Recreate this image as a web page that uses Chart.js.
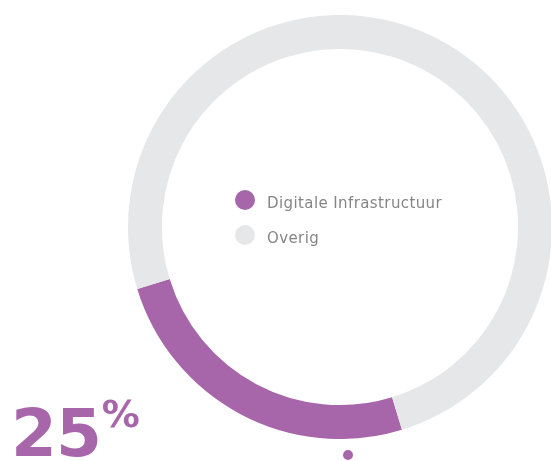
<!DOCTYPE html>
<html>
<head>
<meta charset="utf-8">
<script src="https://cdn.jsdelivr.net/npm/chart.js@4/dist/chart.umd.min.js"></script>
<style>
  html, body { margin: 0; padding: 0; background: #fff; width: 551px; height: 461px; overflow: hidden; }
  #wrap { position: absolute; left: 128px; top: 15px; width: 424px; height: 424px; }
  #legend { position: absolute; left: 235px; top: 190px; font-family: "DejaVu Sans", sans-serif; font-size: 15px; letter-spacing: 0.4px; color: #858585; }
  .item { display: flex; align-items: center; height: 20px; margin-bottom: 15px; }
  .item span.txt { position: relative; top: 3px; }
  .swatch { width: 20px; height: 20px; border-radius: 50%; margin-right: 12px; }
  #big { position: absolute; left: 11px; top: 401px; font-family: "DejaVu Sans", sans-serif; font-weight: bold; color: #a866aa; font-size: 66px; letter-spacing: -1px; line-height: 1; white-space: nowrap; }
  #big sup { font-size: 38px; vertical-align: top; position: relative; top: -6px; letter-spacing: 0; margin-left: 1px; }
  #dot { position: absolute; left: 343px; top: 450px; width: 10px; height: 10px; border-radius: 50%; background: #a866aa; }
</style>
</head>
<body>
<div id="wrap"><canvas id="chart"></canvas></div>
<div id="legend"></div>
<div id="big"></div>
<div id="dot"></div>
<script>
(function () {
  "use strict";

  const labels = ["Digitale Infrastructuur", "Overig"];
  const values = [25, 75];
  const colors = ["#a866aa", "#e6e7e8"];
  const headline = "25";

  function get(id) {
    return document.getElementById(id);
  }

  const legend = get("legend");
  labels.forEach((label, i) => {
    const row = document.createElement("div");
    row.className = "item";
    const sw = document.createElement("span");
    sw.className = "swatch";
    sw.style.background = colors[i];
    const txt = document.createElement("span");
    txt.className = "txt";
    txt.textContent = label;
    row.appendChild(sw);
    row.appendChild(txt);
    legend.appendChild(row);
  });

  get("big").innerHTML = headline + "<sup>%</sup>";

  new Chart(get("chart").getContext("2d"), {
    type: "doughnut",
    data: {
      labels: labels,
      datasets: [{
        data: values,
        backgroundColor: colors,
        borderWidth: 0,
      }],
    },
    options: {
      responsive: true,
      maintainAspectRatio: false,
      animation: false,
      cutout: "84%",
      rotation: 163,
      layout: { padding: 0 },
      plugins: {
        legend: { display: false },
        tooltip: { enabled: false },
      },
    },
  });
})();
</script>
</body>
</html>
